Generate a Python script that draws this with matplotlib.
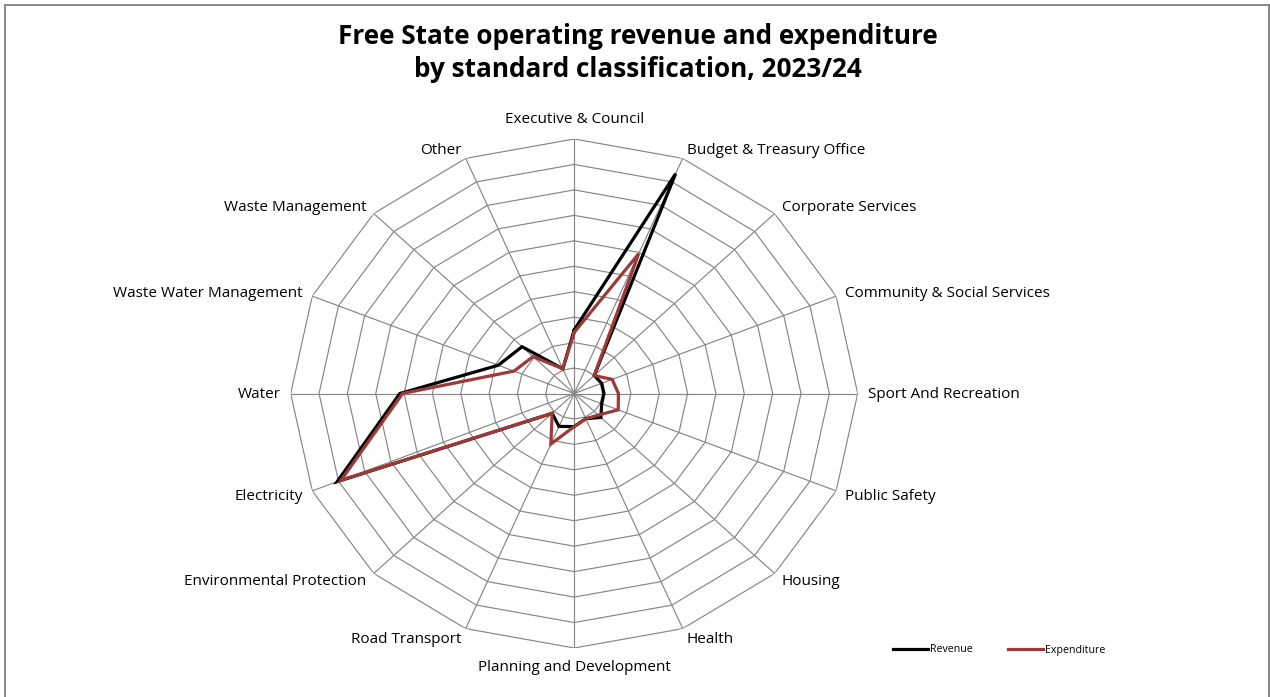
import numpy as np
import matplotlib
matplotlib.use("Agg")
import matplotlib.pyplot as plt
from matplotlib.patches import Rectangle
from matplotlib.lines import Line2D

plt.rcParams['font.family'] = ['Open Sans', 'DejaVu Sans']

# values in grid-ring units (outer ring = 10)
categories = ["Executive & Council", "Budget & Treasury Office", "Corporate Services",
              "Community & Social Services", "Sport And Recreation", "Public Safety",
              "Housing", "Health", "Planning and Development", "Road Transport",
              "Environmental Protection", "Electricity", "Water",
              "Waste Water Management", "Waste Management", "Other"]
revenue = [2.5, 9.35, 1.0, 1.05, 1.05, 1.05, 1.33, 1.07, 1.3, 1.4,
           1.1, 9.05, 6.15, 2.9, 2.6, 1.05]
expenditure = [2.4, 5.95, 1.0, 1.45, 1.56, 1.68, 1.2, 1.07, 1.3, 2.15,
               1.1, 8.9, 6.05, 2.3, 2.05, 1.05]
rings = [1, 2, 3, 4, 5, 6, 7, 8, 9, 10]

W, H = 1270, 697
fig = plt.figure(figsize=(W / 100, H / 100), dpi=100)

# chart area border
fig.patches.append(Rectangle((5 / W, -0.02), (1268.5 - 5) / W, 1 - 5 / H + 0.02,
                             transform=fig.transFigure, fill=False,
                             edgecolor='#7f7f7f', linewidth=1.3))

cx, cy, rx, ry = 574.2, 393.5, 283.5, 254.5
ax = fig.add_axes([(cx - rx) / W, (H - cy - ry) / H, 2 * rx / W, 2 * ry / H],
                  projection='polar')
ax.set_aspect('auto')
ax.set_theta_zero_location('N')
ax.set_theta_direction(-1)
ax.set_ylim(0, 10)
ax.grid(False)
ax.spines['polar'].set_visible(False)
ax.set_xticks([])
ax.set_yticks([])
ax.patch.set_alpha(0)

n = len(categories)
angles = np.arange(n) * 2 * np.pi / n
closed = np.append(angles, angles[0])

grid_col = '#868686'
for r in rings:
    ax.plot(closed, [r] * (n + 1), color=grid_col, linewidth=0.85, zorder=1)
for a in angles:
    ax.plot([a, a], [0, rings[-1]], color=grid_col, linewidth=0.85, zorder=1)

ax.plot(closed, revenue + revenue[:1], color='black', linewidth=2.3,
        zorder=3, solid_joinstyle='miter')
ax.plot(closed, expenditure + expenditure[:1], color='#9b3a38', linewidth=2.3,
        zorder=4, solid_joinstyle='miter')

# category labels just outside the outer ring
for a, lab in zip(angles, categories):
    s, c = np.sin(a), np.cos(a)
    if abs(s) < 1e-6:
        ha = 'center'
        va = 'bottom' if c > 0 else 'top'
        off = (0, 8.5 * np.sign(c))
    else:
        ha = 'left' if s > 0 else 'right'
        va = 'center'
        off = (7.2 * s, 7.2 * c - 1.0)
    ax.annotate(lab, xy=(a, 10), xytext=off, textcoords='offset points',
                ha=ha, va=va, fontsize=11, color='#000000', annotation_clip=False)

fig.text(637.5 / W, 1 - 53 / H,
         "Free State operating revenue and expenditure\nby standard classification, 2023/24",
         ha='center', va='center', fontsize=18.8, fontweight='bold', linespacing=1.3)

handles = [Line2D([], [], color='black', linewidth=2.3),
           Line2D([], [], color='#9b3a38', linewidth=2.3)]
fig.legend(handles, ["Revenue", "Expenditure"], loc='center',
           bbox_to_anchor=(999 / W, 1 - 650 / H), ncol=2, frameon=False,
           fontsize=7.7, handlelength=3.3, handletextpad=0.15, columnspacing=3.3)

fig.savefig("out.png", dpi=100)
